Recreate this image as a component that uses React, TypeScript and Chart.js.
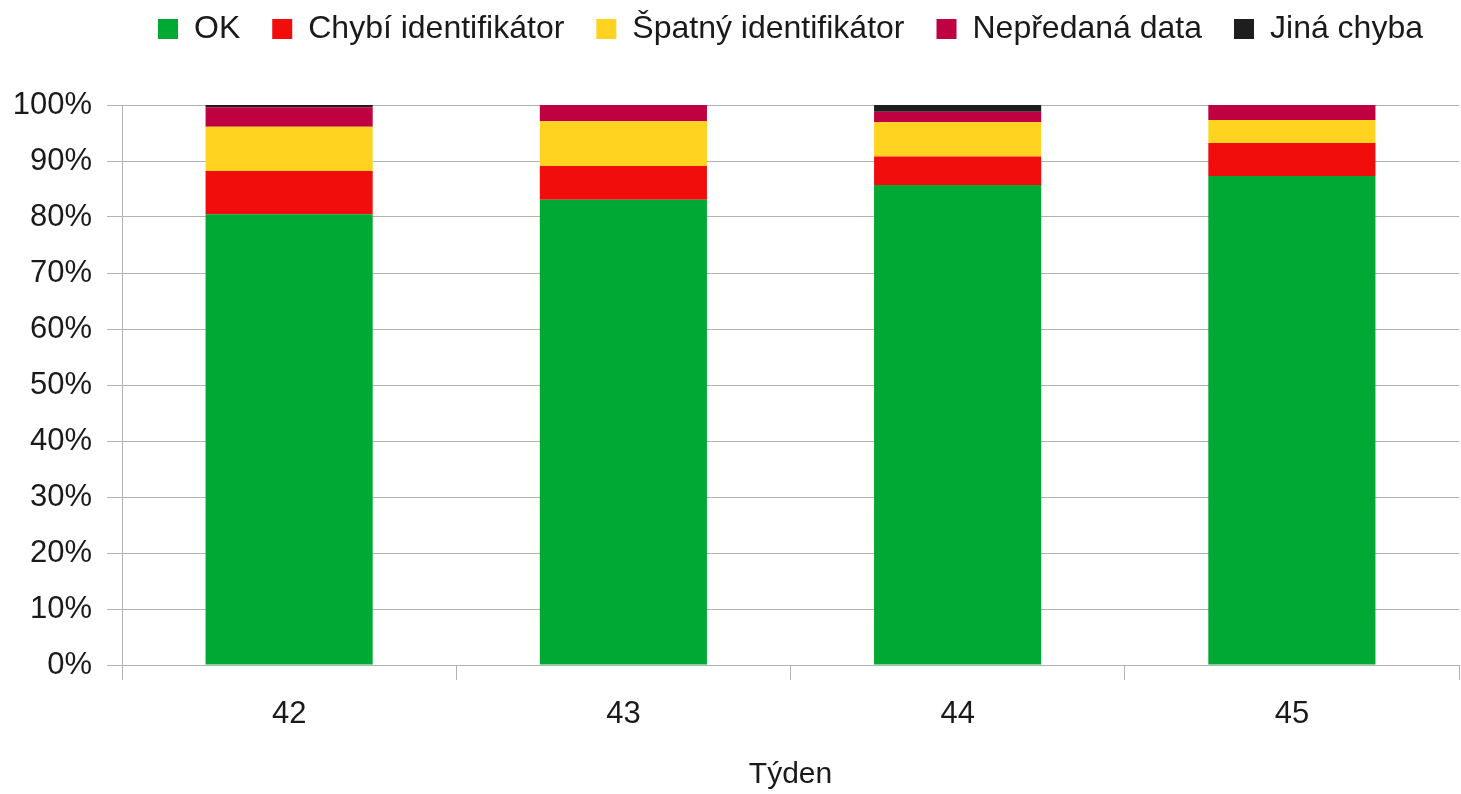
import React, { useEffect, useRef } from "react";
import { Chart, registerables } from "chart.js";

Chart.register(...registerables);

const weeks = ["42", "43", "44", "45"];
const okValues = [80.5, 83.1, 85.7, 87.3];
const missingIdValues = [7.7, 6.0, 5.1, 5.9];
const wrongIdValues = [7.9, 8.0, 6.1, 4.1];
const notSentValues = [3.5, 2.9, 1.9, 2.7];
const otherErrorValues = [0.4, 0.0, 1.2, 0.0];
const yTicks = [0, 10, 20, 30, 40, 50, 60, 70, 80, 90, 100];

const seriesNames = ["OK", "Chybí identifikátor", "Špatný identifikátor", "Nepředaná data", "Jiná chyba"];
const seriesColors = ["#00a933", "#f10d0c", "#ffd320", "#bf0041", "#1e1e1e"];

const GRID = "#b3b3b3";
const TEXT = "#1a1a1a";
const FONT = "'Liberation Sans', Arial, sans-serif";

export default function App() {
  const ref = useRef<HTMLCanvasElement>(null);

  useEffect(() => {
    document.body.style.margin = "0";
    const canvas = ref.current;
    if (!canvas) return;
    const seriesValues = [okValues, missingIdValues, wrongIdValues, notSentValues, otherErrorValues];
    const chart = new Chart(canvas, {
      type: "bar",
      data: {
        labels: weeks,
        datasets: seriesNames.map((name, i) => ({
          label: name,
          data: seriesValues[i],
          backgroundColor: seriesColors[i],
          borderWidth: 0,
          barPercentage: 0.5,
          categoryPercentage: 1.0,
        })),
      },
      options: {
        responsive: false,
        animation: false,
        layout: { padding: { left: 0, right: 2, top: -19, bottom: 0 } },
        plugins: {
          tooltip: { enabled: false },
          legend: {
            display: true,
            position: "top",
            fullSize: false,
            labels: {
              boxWidth: 20,
              boxHeight: 20,
              padding: 32,
              color: TEXT,
              font: { family: FONT, size: 32 },
            },
          },
          title: {
            display: true,
            text: "",
            weight: 500,
            font: { size: 1, lineHeight: 1 },
            padding: { top: 0, bottom: 49 },
          },
        },
        scales: {
          x: {
            stacked: true,
            offset: true,
            afterFit: (s: any) => {
              s.height = 129;
            },
            grid: {
              display: true,
              drawOnChartArea: false,
              drawTicks: true,
              tickLength: 15,
              offset: true,
              color: GRID,
            },
            border: { display: true, color: GRID },
            ticks: {
              color: TEXT,
              padding: 16,
              font: { family: FONT, size: 31 },
            },
            title: {
              display: true,
              text: "Týden",
              color: TEXT,
              font: { family: FONT, size: 30 },
              padding: { top: 0, bottom: 1 },
            },
          },
          y: {
            stacked: true,
            min: 0,
            max: 100,
            afterFit: (s: any) => {
              s.width = 122;
            },
            afterBuildTicks: (s: any) => {
              s.ticks = yTicks.map((v) => ({ value: v }));
            },
            grid: {
              color: GRID,
              drawTicks: true,
              tickLength: 15,
            },
            border: { display: true, color: GRID },
            ticks: {
              color: TEXT,
              padding: 15,
              font: { family: FONT, size: 31 },
              callback: (v: any) => v + "%",
            },
          },
        },
      },
    });
    return () => chart.destroy();
  }, []);

  return (
    <div style={{ position: "absolute", left: 0, top: 0, width: 1461, height: 794 }}>
      <canvas ref={ref} width={1461} height={794} style={{ display: "block" }} />
    </div>
  );
}
